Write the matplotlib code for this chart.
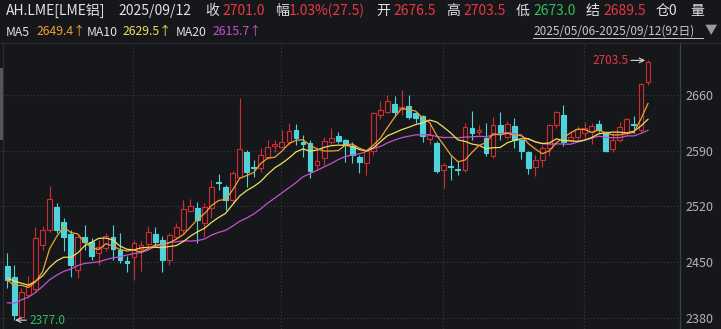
import matplotlib
matplotlib.use("Agg")
import matplotlib.pyplot as plt
from matplotlib.patches import Rectangle
from matplotlib.lines import Line2D
import numpy as np
import pandas as pd

plt.rcParams['font.family'] = ['Noto Sans CJK SC', 'DejaVu Sans']

# LME铝 日K 2025/05/06 - 2025/09/12 (92 trading days)
opens = [2445, 2431, 2381, 2409, 2416, 2471, 2490, 2519, 2500, 2485,
         2440, 2481, 2475, 2461, 2468, 2481, 2465, 2451, 2456, 2466,
         2473, 2485, 2478, 2453, 2482, 2490, 2514, 2518, 2499, 2518,
         2551, 2544, 2528, 2557, 2588, 2570, 2568, 2582, 2596, 2595,
         2601, 2616, 2601, 2600, 2572, 2581, 2601, 2608, 2603, 2596,
         2582, 2574, 2590, 2635, 2639, 2649, 2642, 2646, 2637, 2633,
         2605, 2600, 2566, 2571, 2567, 2566, 2618, 2613, 2606, 2583,
         2622, 2607, 2621, 2603, 2588, 2570, 2578, 2593, 2622, 2635,
         2603, 2607, 2612, 2613, 2624, 2613, 2592, 2603, 2612, 2624,
         2616, 2676.5]
highs = [2461, 2446, 2418, 2432, 2494, 2495, 2546, 2524, 2505, 2490,
         2483, 2496, 2480, 2478, 2486, 2497, 2487, 2458, 2478, 2476,
         2495, 2494, 2483, 2486, 2499, 2528, 2529, 2526, 2524, 2553,
         2561, 2547, 2565, 2656, 2591, 2578, 2593, 2603, 2603, 2616,
         2625, 2624, 2610, 2603, 2595, 2607, 2619, 2614, 2605, 2601,
         2584, 2591, 2639, 2652, 2660, 2659, 2666, 2660, 2639, 2635,
         2622, 2602, 2574, 2583, 2577, 2625, 2640, 2622, 2625, 2632,
         2639, 2627, 2631, 2605, 2590, 2585, 2597, 2624, 2640, 2647,
         2614, 2621, 2626, 2625, 2629, 2615, 2612, 2626, 2631, 2633,
         2675, 2703.5]
lows = [2417, 2377, 2378, 2405, 2412, 2465, 2488, 2487, 2464, 2431,
        2430, 2465, 2453, 2446, 2464, 2453, 2449, 2438, 2427, 2439,
        2469, 2469, 2438, 2446, 2479, 2487, 2513, 2474, 2482, 2505,
        2541, 2515, 2524, 2556, 2544, 2557, 2563, 2580, 2588, 2593,
        2597, 2597, 2582, 2556, 2566, 2572, 2599, 2600, 2576, 2574,
        2562, 2559, 2585, 2630, 2637, 2633, 2635, 2630, 2625, 2601,
        2599, 2562, 2543, 2553, 2559, 2563, 2603, 2610, 2583, 2581,
        2603, 2605, 2593, 2580, 2561, 2558, 2569, 2583, 2618, 2596,
        2601, 2604, 2606, 2599, 2614, 2588, 2588, 2601, 2610, 2612,
        2614, 2673.0]
closes = [2427.5, 2384, 2413, 2421, 2480, 2490, 2529, 2490, 2481, 2446,
          2481, 2475, 2458, 2469, 2483, 2466, 2453, 2449, 2474, 2471,
          2488, 2475, 2453, 2484, 2494, 2517, 2521, 2503, 2519, 2545,
          2549, 2528, 2562, 2592, 2563, 2568, 2585, 2595, 2598, 2601,
          2615, 2606, 2599, 2564, 2577, 2602, 2606, 2602, 2597, 2585,
          2576, 2589, 2638, 2641, 2652, 2639, 2645, 2632, 2631, 2608,
          2610, 2564, 2572, 2569, 2566, 2620, 2612, 2616, 2587, 2622,
          2612, 2623, 2603, 2589, 2568, 2578, 2593, 2622, 2639, 2601,
          2607, 2617, 2619, 2621, 2616, 2589, 2603.5, 2620, 2630, 2622,
          2673.5, 2701.0]
# closes of the 19 sessions before 05/06 (off screen), estimated from where the MA lines start
closes_before = [2395, 2330, 2350, 2365, 2340, 2360, 2375, 2385, 2385, 2395,
                 2420, 2440, 2445, 2430, 2425, 2420, 2410, 2435, 2445]
month_starts = [18, 39, 62, 82]   # 06/02, 07/01, 08/01, 09/01
y_ticks = [2380, 2450, 2520, 2590, 2660]

bg = '#16171b'
red = '#d22c33'
cyan = '#4dd4da'
txt_red = '#ea3641'
txt_green = '#2fbf5a'
white = '#e2e2e2'
c_ma5, c_ma10, c_ma20 = '#f0a030', '#efe05a', '#c452cc'

W, H = 721, 329
fig = plt.figure(figsize=(W / 100, H / 100), dpi=100, facecolor=bg)
ax = fig.add_axes([0, 0, 680 / W, (H - 44) / H])
ax.set_facecolor(bg)
ax.set_xlim(-1.04, 95.55)
ax.set_ylim(2365.9, 2724.1)

# grid
for v in y_ticks:
    ax.axhline(v, color='#3b3d44', lw=0.8, ls=(0, (1, 2)), zorder=0)
for m in month_starts:
    ax.axvline(m - 0.15, color='#3b3d44', lw=0.8, ls=(0, (1, 2)), zorder=0)

# candles
bw = 0.68
for i in range(len(closes)):
    o, h, l, c = opens[i], highs[i], lows[i], closes[i]
    if c >= o:
        ax.vlines(i, l, h, color=red, lw=0.8, zorder=2)
        ax.add_patch(Rectangle((i - bw / 2, o), bw, max(c - o, 0.6), facecolor=bg,
                               edgecolor=red, lw=0.8, zorder=3))
    else:
        ax.vlines(i, l, h, color=cyan, lw=0.8, zorder=2)
        ax.add_patch(Rectangle((i - bw / 2, c), bw, max(o - c, 0.6), facecolor=cyan,
                               edgecolor=cyan, lw=0.8, zorder=3))

# moving averages
s = pd.Series(closes_before + closes)
x = np.arange(len(closes))
n0 = len(closes_before)
ax.plot(x, s.rolling(20).mean().iloc[n0:], color=c_ma20, lw=0.9, zorder=4)
ax.plot(x, s.rolling(10).mean().iloc[n0:], color=c_ma10, lw=0.9, zorder=4)
ax.plot(x, s.rolling(5).mean().iloc[n0:], color=c_ma5, lw=0.9, zorder=4)

# high / low marks
ih = int(np.argmax(highs))
il = int(np.argmin(lows))
ax.annotate(f'{highs[ih]:.1f}', xy=(ih - 0.4, highs[ih]), xytext=(-17, 0),
            textcoords='offset pixels', ha='right', va='center', color=txt_red,
            fontsize=8.5, arrowprops=dict(arrowstyle='->', color='#d8d8d8', lw=0.8,
                                          shrinkA=0, shrinkB=0), zorder=5)
ax.annotate(f'{lows[il]:.1f}', xy=(il + 0.1, lows[il]), xytext=(14, 0),
            textcoords='offset pixels', ha='left', va='center', color=txt_green,
            fontsize=8.5, arrowprops=dict(arrowstyle='->', color='#d8d8d8', lw=0.8,
                                          shrinkA=0, shrinkB=0), zorder=5)

# right price axis
for sp in ['top', 'left', 'bottom']:
    ax.spines[sp].set_visible(False)
ax.spines['right'].set_color('#3e4047')
ax.spines['right'].set_linewidth(0.8)
ax.set_xticks([])
ax.yaxis.tick_right()
ax.set_yticks(y_ticks)
ax.tick_params(axis='y', length=0, pad=4, labelsize=9, labelcolor='#b4b4b4')

# frame lines
fig.add_artist(Line2D([0, 1], [1 - 42.5 / H] * 2, color='#2c2e34', lw=0.8))
fig.add_artist(Line2D([680 / W] * 2, [0, 1 - 42.5 / H], color='#3e4047', lw=0.8))
fig.add_artist(Line2D([3.5 / W] * 2, [0, 1 - 42.5 / H], color='#2c2e34', lw=0.8))
fig.add_artist(Rectangle((0, 1 - 140 / H), 3 / W, 72 / H, facecolor='#55575d',
                         edgecolor='none', transform=fig.transFigure))

# header
def put(px, py, s, color, size=10, **kw):
    fig.text(px / W, 1 - py / H, s, color=color, fontsize=size, ha='left', va='center', **kw)

row1 = [(6, 'AH.LME[LME铝]', white), (118, '2025/09/12', white),
        (205, '收', white), (222, '2701.0', txt_red),
        (275, '幅', white), (289, '1.03%(27.5)', txt_red),
        (376, '开', white), (393, '2676.5', txt_red),
        (446, '高', white), (463, '2703.5', txt_red),
        (516, '低', white), (533, '2673.0', txt_green),
        (586, '结', white), (603, '2689.5', txt_red),
        (656, '仓0', white), (690, '量', white)]
for px, s_, col in row1:
    put(px, 11, s_, col, 10)

row2 = [(6, 'MA5', white), (37, '2649.4↑', c_ma5),
        (87, 'MA10', white), (123, '2629.5↑', c_ma10),
        (176, 'MA20', white), (213, '2615.7↑', c_ma20)]
for px, s_, col in row2:
    put(px, 32, s_, col, 8.8)

put(533, 31, '2025/05/06-2025/09/12(92日)', '#c8c8c8', 8.5)
fig.add_artist(Line2D([533 / W, 703 / W], [1 - 38 / H] * 2, color='#c8c8c8', lw=0.7))
put(705, 31, '▼', '#9a9a9a', 9)

fig.savefig('out.png', dpi=100, facecolor=bg)
